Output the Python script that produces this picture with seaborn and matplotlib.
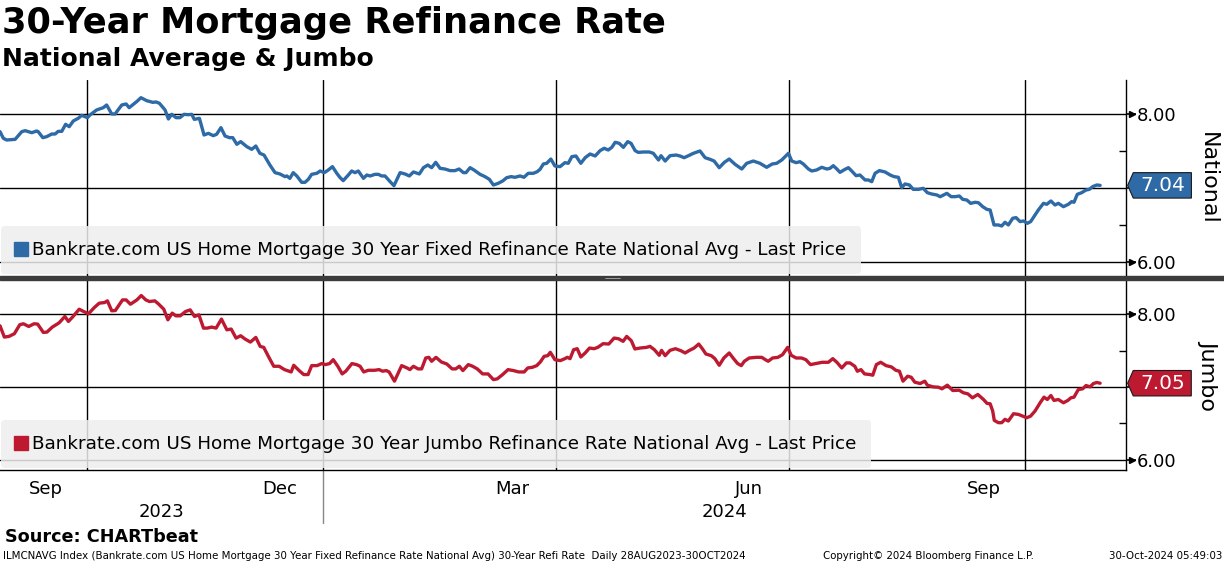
import numpy as np
import pandas as pd
import matplotlib
matplotlib.use("Agg")
import matplotlib.pyplot as plt
import matplotlib.dates as mdates
import matplotlib.transforms as mtransforms
from matplotlib.lines import Line2D
from matplotlib.patches import Rectangle
from matplotlib.path import Path
import seaborn as sns

start = pd.Timestamp("2023-08-28")

# National avg: day offset from 28-Aug-2023, rate in %
nat_days = [0, 1.3, 2.6, 5.9, 8.5, 9.8, 12.4, 14.3, 14.9, 16.7,
            18.2, 20.2, 21.5, 22.7, 24.1, 25.6, 27.0, 28.6, 30.5, 31.9,
            34.1, 35.1, 37.7, 40.3, 41.6, 43.6, 44.9, 47.5, 49.2, 50.4,
            53.3, 55.0, 57.2, 59.6, 60.9, 62.2, 64.4, 65.7, 67.0, 68.7,
            70.2, 71.8, 73.5, 74.8, 75.8, 77.8, 79.6, 81.3, 83.2, 84.5,
            86.2, 87.8, 89.5, 90.8, 92.4, 93.9, 96.3, 98.2, 99.8, 101.4,
            103.0, 105.3, 107.3, 109.2, 111.2,
            111.9, 113.1, 114.4, 115.8, 117.7, 119.0, 120.3, 121.6, 123.6, 124.9,
            126.5, 128.1, 129.7, 131.4, 132.7, 133.9, 135.9, 137.2, 138.5, 139.8,
            141.8, 143.1, 144.4, 146.3, 147.6, 148.9, 150.2, 152.2, 153.7, 156.1,
            158.0, 159.7, 161.3, 163.6, 165.2, 166.9, 168.4, 170.0, 171.7, 173.6,
            175.6, 177.5, 179.1, 180.8, 181.8, 183.4, 184.9, 187.3, 189.2, 190.9,
            192.5, 194.4, 196.1, 197.7, 199.4, 200.9, 202.9, 204.4, 206.1, 208.1,
            209.6, 210.7, 212.0, 213.3, 214.9, 216.5, 218.5, 220.4,
            221.7, 223.1, 224.7, 226.6, 228.3, 230.2, 232.2, 234.1, 235.7,
            237.3, 238.7, 240.0, 241.6, 243.2, 244.9, 246.2, 247.8, 249.0, 251.0,
            253.3, 254.9, 256.9, 257.9, 259.5, 261.4, 263.8, 265.3, 266.9, 268.6,
            270.5, 273.1, 275.1, 277.0, 278.6, 280.6, 282.6, 284.5, 286.8,
            289.4, 291.3, 293.9, 296.5, 299.1, 301.3, 303.0, 305.0, 307.6, 308.9,
            310.6, 312.1, 313.4, 315.4, 316.7, 318.6, 320.6, 322.6, 323.8, 325.1,
            326.5, 327.7, 329.7,
            331.0, 332.3, 334.0, 335.5, 337.5, 338.8, 340.1, 341.4, 343.1, 345.3,
            347.3, 348.8, 350.5, 351.8, 353.1, 354.8, 356.3, 358.3, 360.2, 361.8,
            363.5, 365.5, 366.8, 369.4, 371.1, 372.6, 374.3, 375.6, 377.2, 378.7,
            380.4, 381.7, 383.4, 385.0, 386.3, 387.8, 389.5, 390.8, 392.1, 393.4,
            395.1, 396.4, 398.0, 399.3, 400.8, 402.1, 403.4, 405.1, 407.1, 408.4,
            410.0, 411.6, 412.9, 414.9, 416.8, 418.1, 419.0, 420.3, 422.0, 423.7,
            425.0, 426.3, 427.9, 429.2]
nat_rate = [7.766, 7.676, 7.653, 7.662, 7.766, 7.779, 7.752, 7.775, 7.766, 7.685,
            7.698, 7.734, 7.734, 7.770, 7.770, 7.865, 7.833, 7.910, 7.946, 7.986,
            7.955, 7.991, 8.059, 8.090, 8.126, 8.005, 8.005, 8.126, 8.140, 8.090,
            8.171, 8.225, 8.185, 8.162, 8.167, 8.149, 8.059, 7.937, 8.000, 7.955,
            7.955, 8.000, 7.995, 8.000, 7.932, 7.946, 7.721, 7.743, 7.712, 7.730,
            7.820, 7.707, 7.685, 7.685, 7.595, 7.631, 7.563, 7.527, 7.572, 7.473,
            7.450, 7.315, 7.212, 7.194, 7.158,
            7.167, 7.135, 7.212, 7.167, 7.081, 7.081, 7.122, 7.189, 7.203, 7.234,
            7.212, 7.248, 7.293, 7.203, 7.144, 7.104, 7.180, 7.234, 7.212, 7.234,
            7.135, 7.180, 7.167, 7.189, 7.189, 7.167, 7.167, 7.090, 7.036, 7.212,
            7.194, 7.167, 7.221, 7.194, 7.279, 7.315, 7.279, 7.351, 7.270, 7.261,
            7.239, 7.239, 7.261, 7.212, 7.212, 7.279, 7.248, 7.189, 7.158, 7.122,
            7.045, 7.068, 7.099, 7.144, 7.158, 7.149, 7.167, 7.149, 7.203, 7.203,
            7.225, 7.257, 7.329, 7.338, 7.396, 7.302, 7.293, 7.347,
            7.338, 7.428, 7.437, 7.338, 7.414, 7.464, 7.437, 7.509, 7.541,
            7.518, 7.554, 7.622, 7.608, 7.554, 7.631, 7.608, 7.509, 7.486, 7.491,
            7.491, 7.473, 7.383, 7.441, 7.369, 7.441, 7.450, 7.437, 7.414, 7.441,
            7.473, 7.505, 7.414, 7.392, 7.369, 7.279, 7.351, 7.396, 7.324,
            7.261, 7.338, 7.369, 7.338, 7.284, 7.329, 7.338, 7.383, 7.473, 7.369,
            7.347, 7.360, 7.329, 7.261, 7.234, 7.248, 7.284, 7.261, 7.270, 7.306,
            7.261, 7.216, 7.257,
            7.279, 7.234, 7.171, 7.180, 7.113, 7.113, 7.090, 7.203, 7.239, 7.221,
            7.180, 7.158, 7.149, 7.009, 7.059, 7.045, 6.986, 6.986, 7.000, 6.941,
            6.923, 6.910, 6.887, 6.932, 6.887, 6.887, 6.896, 6.851, 6.842, 6.797,
            6.811, 6.806, 6.752, 6.716, 6.707, 6.505, 6.505, 6.491, 6.541, 6.505,
            6.595, 6.604, 6.550, 6.559, 6.527, 6.550, 6.617, 6.707, 6.797, 6.784,
            6.829, 6.775, 6.797, 6.752, 6.784, 6.820, 6.811, 6.919, 6.941, 6.977,
            6.986, 7.023, 7.045, 7.04]

# Jumbo
jumbo_days = [0, 1.7, 3.5, 5.6, 7.7, 9.1, 11.2, 13.3, 14.7, 16.9,
              18.3, 20.4, 22.5, 23.2, 25.3, 26.7, 28.5, 30.9, 32.6, 34.5,
              36.8, 38.7, 40.8, 41.9, 43.6, 45.0, 47.8, 49.2, 50.9, 53.4,
              55.1, 56.9, 58.3, 60.4, 61.8, 63.9, 65.5, 67.2, 68.6, 70.3,
              72.4, 74.2, 75.9, 77.6, 79.4, 80.8, 82.6, 84.3, 86.4, 88.5,
              90.2, 92.1, 93.9, 95.6, 97.7, 99.8, 101.5, 102.9, 104.7, 106.8,
              108.9, 111.0, 113.6, 114.6, 116.7, 118.5, 120.2, 121.6, 123.7, 125.5,
              126.9, 128.6, 130.0, 131.8, 133.5, 134.9, 137.3, 139.1, 140.5, 141.9,
              143.7, 146.2, 147.9, 149.3, 150.7, 151.8, 153.9, 156.7, 158.8, 159.9,
              161.3, 163.1, 164.5, 166.1, 167.3, 168.4, 170.1, 172.2, 174.3, 176.4,
              177.8, 179.2, 180.6, 182.7, 184.4, 186.2, 188.3, 190.4, 192.5, 194.0,
              196.1, 198.2, 200.3, 202.4, 204.5, 205.9, 207.7, 209.4, 210.8, 212.3,
              213.7, 214.7, 216.5, 218.6, 220.4,
              221.3, 222.4, 223.8, 225.2, 226.6, 228.3, 230.0, 231.8, 233.2, 235.3,
              237.5, 239.6, 241.3, 243.1, 244.5, 246.3, 247.7, 249.7, 252.2, 253.6,
              255.3, 257.2, 258.1, 259.5, 261.4, 263.5, 265.6, 267.3, 268.8, 270.8,
              272.6, 274.0, 275.4, 277.5, 278.9, 280.6, 282.4, 284.5, 286.2, 287.8,
              289.2, 290.4, 292.3, 295.1, 297.2, 298.6, 299.7, 301.4, 303.5, 305.3,
              307.3, 308.7, 310.6, 312.7, 314.4, 316.2, 318.3, 320.8, 323.2, 324.9,
              326.5, 328.4, 330.2, 331.6, 333.5, 334.5, 335.9, 337.3, 339.4, 340.5,
              341.9, 343.6, 345.7, 347.8, 349.5, 350.9, 352.3, 354.1, 355.5, 356.9,
              359.0, 360.8, 361.8, 364.0, 366.1, 367.5, 369.6, 371.7, 374.2, 375.9,
              377.6, 379.4, 381.5, 383.7, 385.1,
              386.3, 387.3, 387.9, 389.5, 390.8, 392.1, 393.4, 395.4, 397.3, 399.0,
              400.6, 402.1, 403.8, 405.8, 407.3, 408.6, 410.0, 411.2, 412.9, 414.9,
              416.6, 417.8, 419.0, 420.7, 422.4, 423.7, 425.3, 426.6, 427.9, 429.2]
jumbo_rate = [7.840, 7.685, 7.694, 7.731, 7.854, 7.868, 7.831, 7.868, 7.863, 7.749,
              7.753, 7.822, 7.868, 7.886, 7.968, 7.900, 7.968, 8.068, 8.037, 8.005,
              8.091, 8.151, 8.160, 8.183, 8.046, 8.050, 8.196, 8.196, 8.137, 8.196,
              8.256, 8.196, 8.174, 8.183, 8.142, 8.068, 7.922, 8.014, 7.977, 7.977,
              8.037, 8.059, 7.968, 7.991, 7.808, 7.808, 7.822, 7.808, 7.932, 7.785,
              7.795, 7.671, 7.703, 7.658, 7.616, 7.680, 7.557, 7.543, 7.420, 7.283,
              7.283, 7.237, 7.205, 7.297, 7.224, 7.169, 7.169, 7.292, 7.292, 7.320,
              7.306, 7.320, 7.374, 7.283, 7.178, 7.215, 7.320, 7.306, 7.283, 7.205,
              7.228, 7.228, 7.237, 7.215, 7.224, 7.205, 7.078, 7.292, 7.260, 7.237,
              7.283, 7.247, 7.247, 7.397, 7.406, 7.352, 7.406, 7.342, 7.315, 7.247,
              7.247, 7.283, 7.224, 7.306, 7.283, 7.247, 7.178, 7.178, 7.100, 7.110,
              7.169, 7.237, 7.224, 7.205, 7.205, 7.260, 7.269, 7.292, 7.342, 7.420,
              7.429, 7.475, 7.374, 7.361, 7.388,
              7.406, 7.388, 7.511, 7.525, 7.411, 7.466, 7.534, 7.525, 7.543, 7.594,
              7.589, 7.671, 7.662, 7.626, 7.694, 7.635, 7.521, 7.534, 7.543, 7.557,
              7.511, 7.434, 7.502, 7.429, 7.502, 7.525, 7.498, 7.466, 7.498, 7.534,
              7.589, 7.525, 7.452, 7.429, 7.388, 7.297, 7.397, 7.466, 7.388, 7.320,
              7.292, 7.352, 7.397, 7.406, 7.406, 7.374, 7.352, 7.397, 7.406, 7.443,
              7.543, 7.434, 7.397, 7.397, 7.374, 7.306, 7.320, 7.338, 7.338, 7.388,
              7.338, 7.260, 7.329, 7.329, 7.283, 7.215, 7.237, 7.178, 7.169, 7.160,
              7.306, 7.338, 7.292, 7.274, 7.228, 7.215, 7.078, 7.146, 7.132, 7.064,
              7.046, 7.078, 7.023, 7.000, 6.995, 6.973, 7.023, 6.950, 6.954, 6.918,
              6.904, 6.849, 6.895, 6.826, 6.772,
              6.767, 6.667, 6.539, 6.507, 6.507, 6.553, 6.530, 6.630, 6.621, 6.598,
              6.575, 6.598, 6.667, 6.781, 6.858, 6.826, 6.881, 6.813, 6.826, 6.781,
              6.813, 6.849, 6.858, 6.963, 6.973, 7.018, 7.000, 7.046, 7.06, 7.05]

nat_label = "Bankrate.com US Home Mortgage 30 Year Fixed Refinance Rate National Avg - Last Price"
jumbo_label = "Bankrate.com US Home Mortgage 30 Year Jumbo Refinance Rate National Avg - Last Price"
years = ["2023", "2024"]

BLUE = "#2d6aa6"
RED = "#bd1a32"

sns.set_style("white")
plt.rcParams["font.family"] = ["DejaVu Sans"]
for k in ["text.color", "axes.labelcolor", "xtick.color", "ytick.color"]:
    plt.rcParams[k] = "black"

df_nat = pd.DataFrame({"date": start + pd.to_timedelta(nat_days, unit="D"), "rate": nat_rate})
df_jum = pd.DataFrame({"date": start + pd.to_timedelta(jumbo_days, unit="D"), "rate": jumbo_rate})

x_end = start + pd.Timedelta(days=439.3)
qstarts = pd.date_range("2023-10-01", "2024-10-01", freq="QS")


def tag_box(x0, y0, width, height, mutation_size):
    padx = 0.33 * mutation_size
    pady = 0.16 * mutation_size
    x0, y0 = x0 - padx, y0 - pady
    x1, y1 = x0 + width + 2 * padx, y0 + height + 2 * pady
    tip = (y1 - y0) * 0.22
    return Path([(x0, y0), (x1, y0), (x1, y1), (x0, y1), (x0 - tip, (y0 + y1) / 2), (x0, y0)], closed=True)


def panel(ax, df, color, label, name, ylim):
    sns.lineplot(data=df, x="date", y="rate", ax=ax, color=color, lw=2.4, zorder=5)
    ax.set_xlim(start, x_end)
    ax.set_ylim(*ylim)
    ax.set_xlabel("")
    ax.set_ylabel("")
    for s in ["left", "top", "bottom"]:
        ax.spines[s].set_visible(False)
    ax.spines["right"].set_color("black")
    ax.spines["right"].set_linewidth(1)
    ax.yaxis.tick_right()
    ax.set_yticks([6, 7, 8])
    ax.set_yticklabels(["6.00", "", "8.00"])
    ax.set_yticks([6.5, 7.5], minor=True)
    ax.yaxis.set_tick_params(which="major", direction="out", length=7, width=1.2,
                             labelsize=13, pad=1, right=True, left=False)
    ax.yaxis.set_tick_params(which="minor", direction="in", length=5, width=1,
                             right=True, left=False)
    # little arrow heads on the labelled ticks
    ax.plot([1.0055, 1.0055], [6, 8], transform=ax.get_yaxis_transform(), ls="",
            marker=">", ms=4.5, color="black", clip_on=False, zorder=6)
    ax.grid(axis="y", which="major", color="black", lw=1)
    for q in qstarts:
        ax.axvline(q, color="black", lw=1, zorder=1)
    ax.text(1.073, 0.5, name, transform=ax.transAxes, rotation=270,
            ha="center", va="center", fontsize=16)
    h = Line2D([], [], marker="s", ls="", color=color, markersize=9.5)
    leg = ax.legend(handles=[h], labels=[label], loc="lower left", bbox_to_anchor=(0.001, 0.012),
                    borderaxespad=0, frameon=True, fontsize=13.2, handlelength=0.6,
                    handletextpad=0.3, borderpad=0.8, framealpha=0.85)
    leg.get_frame().set_facecolor("#eeeeee")
    leg.get_frame().set_edgecolor("none")
    leg.set_zorder(6)
    last = df["rate"].iloc[-1]
    ax.annotate(f"{last:.2f}", xy=(1.0, last), xycoords=ax.get_yaxis_transform(),
                xytext=(10, 0), textcoords="offset points", ha="left", va="center",
                fontsize=14.5, color="white", annotation_clip=False, zorder=10,
                bbox=dict(boxstyle=tag_box, fc=color, ec="#1a1a1a", lw=0.8))


fig = plt.figure(figsize=(12.24, 5.65), dpi=100)
ax1 = fig.add_axes([0, (565 - 276) / 565, 1126 / 1224, 196 / 565])
ax2 = fig.add_axes([0, 95 / 565, 1126 / 1224, 190 / 565])

panel(ax1, df_nat, BLUE, nat_label, "National", (5.815, 8.464))
panel(ax2, df_jum, RED, jumbo_label, "Jumbo", (5.856, 8.47))

ax1.tick_params(axis="x", which="both", bottom=False, labelbottom=False)

# bottom date axis
ax2.spines["bottom"].set_visible(True)
ax2.spines["bottom"].set_color("black")
ax2.spines["bottom"].set_linewidth(1)
ax2.xaxis.set_major_locator(mdates.MonthLocator(bymonth=[3, 6, 9, 12], bymonthday=15))
ax2.xaxis.set_major_formatter(mdates.DateFormatter("%b"))
ax2.xaxis.set_minor_locator(mdates.MonthLocator())
ax2.tick_params(axis="x", which="major", length=0, labelsize=13, pad=7)
ax2.tick_params(axis="x", which="minor", direction="out", length=5, width=1, colors="black")

blend = mtransforms.blended_transform_factory(ax2.transData, ax2.transAxes)
jan1 = pd.Timestamp("2024-01-01")
ax2.plot([jan1, jan1], [0, -0.28], transform=blend, clip_on=False, color="#888888", lw=1)
ax2.text(start + (jan1 - start) / 2, -0.222, years[0], transform=blend,
         ha="center", va="center", fontsize=13)
ax2.text(jan1 + (x_end - jan1) / 2, -0.222, years[1], transform=blend,
         ha="center", va="center", fontsize=13)

# panel separator
fig.add_artist(Rectangle((0, (565 - 280) / 565), 1, 4 / 565, transform=fig.transFigure,
                         color="#3c3c3c", zorder=20))
fig.add_artist(Line2D([605 / 1224, 620 / 1224], [(565 - 278) / 565] * 2, transform=fig.transFigure,
                      color="#aaaaaa", lw=0.6, zorder=21))

fig.text(2 / 1224, 1 - 6 / 565, "30-Year Mortgage Refinance Rate", fontsize=25.4,
         fontweight="bold", va="top", ha="left")
fig.text(2 / 1224, 1 - 47 / 565, "National Average & Jumbo", fontsize=18,
         fontweight="bold", va="top", ha="left")

fig.text(5 / 1224, 1 - 537 / 565, "Source: CHARTbeat", fontsize=12.7, fontweight="bold",
         va="center", ha="left")
fy = 1 - 556 / 565
fig.text(3 / 1224, fy, "ILMCNAVG Index (Bankrate.com US Home Mortgage 30 Year Fixed Refinance Rate "
         "National Avg) 30-Year Refi Rate  Daily 28AUG2023-30OCT2024", fontsize=7.4, va="center")
fig.text(823 / 1224, fy, "Copyright\u00a9 2024 Bloomberg Finance L.P.", fontsize=7.4, va="center")
fig.text(1222 / 1224, fy, "30-Oct-2024 05:49:03", fontsize=7.4, va="center", ha="right")

fig.savefig("out.png", dpi=100)
